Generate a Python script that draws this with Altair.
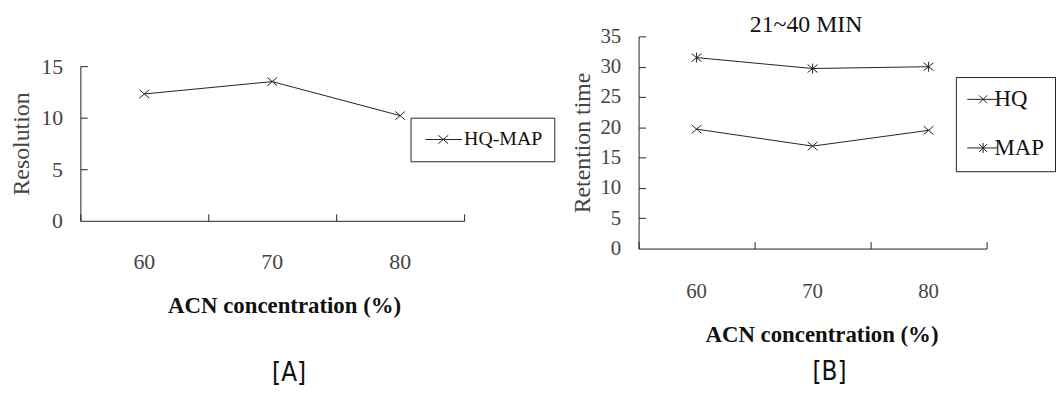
import altair as alt
import pandas as pd

# ---------------- data ----------------
acn = ["60", "70", "80"]
resolution = [12.3, 13.5, 10.2]          # panel A, HQ-MAP
hq_rt = [19.7, 16.9, 19.5]               # panel B, HQ
map_rt = [31.5, 29.7, 30.0]              # panel B, MAP
series_a = ["HQ-MAP"]
series_b = ["HQ", "MAP"]
a_yticks = [0, 5, 10, 15]
b_yticks = [0, 5, 10, 15, 20, 25, 30, 35]

dfA = pd.DataFrame({"acn": acn, "value": resolution, "series": series_a * 3})
dfB = pd.DataFrame({
    "acn": acn + acn,
    "value": hq_rt + map_rt,
    "series": [series_b[0]] * 3 + [series_b[1]] * 3,
})

SERIF = "Liberation Serif"
SANS_N = "Liberation Sans Narrow, DejaVu Sans Condensed, Liberation Sans"
INK = "#222222"
LABEL = "#444444"
NOVIEW = alt.ViewBackground(stroke="transparent", strokeWidth=0)

# marker shapes (unit square, scaled by sqrt(size)/2)
X_PATH = "M-1,-0.85L1,0.85M-1,0.85L1,-0.85"
AST_PATH = "M-1,-0.8L1,0.8M-1,0.8L1,-0.8M0,-1L0,1"
# legend symbols: short line with marker on it
LEG_A = "M-1.4,0L6.0,0M1.2,-0.85L3.2,0.85M1.2,0.85L3.2,-0.85"
LEG_B_X = "M-2.2,0L3.8,0M0.2,-0.8L1.8,0.8M0.2,0.8L1.8,-0.8"
LEG_B_AST = "M-2.2,0L3.8,0M0.2,-0.8L1.8,0.8M0.2,0.8L1.8,-0.8M1.0,-1L1.0,1"


def panel(df, W, H, ymax, yticks, ytitle, series, marks, leg_paths, leg,
          lab_size, ytitle_size, xlab_pad, xtitle_pad, ytitle_pad, xtitle_dx,
          top_title, bottom_title, bottom_offset, bottom_dx):
    xscale = alt.Scale(type="band", paddingInner=0, paddingOuter=0)
    yscale = alt.Scale(domain=[0, ymax], nice=False, zero=True)
    base = alt.Chart(df)

    x_main = alt.X("acn:N", sort=None, scale=xscale, axis=alt.Axis(
        orient="bottom", title="ACN concentration (%)", ticks=False, tickSize=0,
        labelPadding=xlab_pad, labelAngle=0, labelFont=SERIF, labelFontSize=lab_size,
        labelColor=LABEL, domainColor=INK, domainWidth=1, grid=False,
        titleFont=SERIF, titleFontSize=23, titleFontWeight="bold", titleColor="#111111",
        titlePadding=xtitle_pad, titleX=W / 2 + xtitle_dx))
    y_main = alt.Y("value:Q", scale=yscale, axis=alt.Axis(
        orient="left", values=yticks, ticks=False, tickSize=0, labelPadding=18,
        labelFont=SERIF, labelFontSize=lab_size, labelColor=LABEL,
        domainColor=INK, domainWidth=1, grid=False,
        title=ytitle, titleFont=SERIF, titleFontSize=ytitle_size,
        titleFontWeight="normal", titleColor=LABEL, titlePadding=ytitle_pad))

    x_none = alt.X("acn:N", sort=None, axis=None)
    y_none = alt.Y("value:Q", axis=None)

    line = base.mark_line(color=INK, strokeWidth=1).encode(
        x=x_main, y=y_main, detail="series:N")

    pts = base.mark_point(filled=False, size=100, color=INK, strokeWidth=1, opacity=1).encode(
        x=x_none, y=y_none,
        shape=alt.Shape("series:N", scale=alt.Scale(domain=series, range=marks), legend=None))

    ticks = base.mark_point(opacity=0).encode(
        x=alt.X("acn:N", sort=None, axis=alt.Axis(
            orient="top", offset=-H, labels=False, domain=False, tickSize=7,
            tickBand="extent", tickColor=INK, tickWidth=1, title=None, grid=False)),
        y=alt.Y("value:Q", axis=alt.Axis(
            orient="right", offset=-W, values=yticks[1:], labels=False, domain=False,
            tickSize=7, tickColor=INK, tickWidth=1, title=None, grid=False)))

    legend_layer = base.mark_point(opacity=0).encode(
        x=x_none, y=y_none,
        shape=alt.Shape("series:N", scale=alt.Scale(domain=series, range=leg_paths),
                        legend=alt.Legend(
                            orient="none", legendX=leg["x"], legendY=leg["y"], title=None,
                            strokeColor=INK, fillColor="white", padding=leg["pad"],
                            symbolSize=100, symbolStrokeColor=INK, symbolFillColor="transparent",
                            symbolStrokeWidth=1, symbolOpacity=1,
                            labelFont=SERIF, labelFontSize=leg["fs"], labelColor="#111111",
                            labelOffset=leg["off"], rowPadding=leg["row"])))

    layers = [line, pts, ticks, legend_layer]
    if top_title:
        top = base.mark_point(opacity=0).encode(
            x=alt.X("acn:N", sort=None, axis=alt.Axis(
                orient="top", labels=False, ticks=False, domain=False, grid=False,
                title=top_title, titleFont=SERIF, titleFontSize=24, titleFontWeight="normal",
                titleColor="#111111", titlePadding=0, titleX=W / 2 - 7)),
            y=y_none)
        layers.append(top)

    return alt.layer(*layers).resolve_axis(
        x="independent", y="independent").resolve_scale(shape="independent").properties(
        width=W, height=H, view=NOVIEW,
        title=alt.TitleParams(bottom_title, orient="bottom", anchor="middle", frame="group",
                              font=SANS_N, fontSize=26, fontWeight="normal", color="#111111",
                              offset=bottom_offset, dx=bottom_dx))


A = panel(dfA, 387, 156, 15, a_yticks, "Resolution", series_a, [X_PATH], [LEG_A],
          dict(x=333, y=52, pad=12, fs=20, off=22, row=0),
          lab_size=22, ytitle_size=24, xlab_pad=31.5, xtitle_pad=22, ytitle_pad=7, xtitle_dx=12,
          top_title=None, bottom_title="[A]", bottom_offset=43, bottom_dx=17)

B = panel(dfB, 351, 214, 35, b_yticks, "Retention time", series_b, [X_PATH, AST_PATH],
          [LEG_B_X, LEG_B_AST],
          dict(x=320, y=41, pad=11, fs=23, off=5, row=25),
          lab_size=21, ytitle_size=24, xlab_pad=32.8, xtitle_pad=22.3, ytitle_pad=6, xtitle_dx=9,
          top_title="21~40 MIN", bottom_title="[B]", bottom_offset=12, bottom_dx=17)

# empty spacer above panel A so that its plot starts lower than panel B's
spacer = alt.Chart(pd.DataFrame({"s": [0]})).mark_point(opacity=0).encode(
    x=alt.value(0), y=alt.value(0)).properties(width=387, height=19, view=NOVIEW)

left = alt.vconcat(spacer, A, spacing=0)

chart = alt.hconcat(left, B, spacing=15).properties(
    padding={"left": 2, "top": 3, "right": 0, "bottom": 0}
).configure_view(stroke="transparent", strokeWidth=0).configure(font=SERIF, background="white")

chart.save("out.html", embed_options={"renderer": "svg", "actions": False})
